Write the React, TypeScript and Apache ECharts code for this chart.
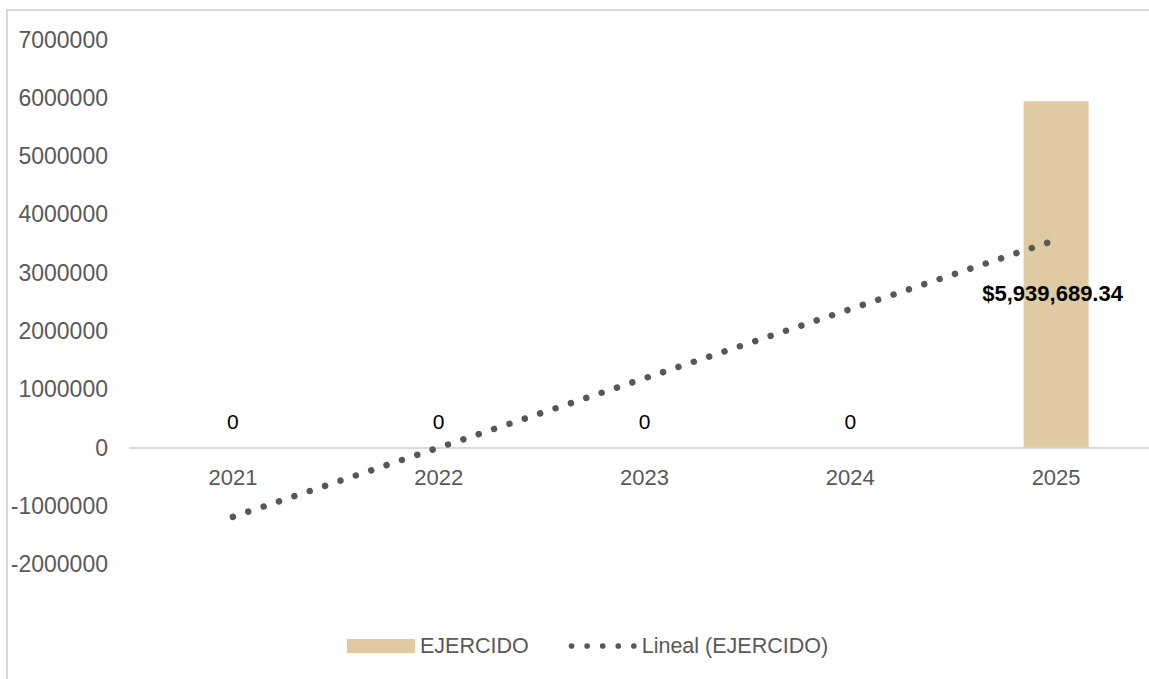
import React, { useEffect, useRef } from "react";
import * as echarts from "echarts";

const categories = ["2021", "2022", "2023", "2024", "2025"];
const ejercido = [0, 0, 0, 0, 5939689.34];
// Linear trendline ends (2021 and 2025)
const trendLine = [-1187938, null, null, null, 3563814];
const yTicks = { min: -2000000, max: 7000000, interval: 1000000 };

const FONT = "'Liberation Sans', Arial, sans-serif";
const GRAY = "#595959";
const DOT = "#55575B";

function fmtMoney(v: number) {
  return (
    "$" +
    v.toLocaleString("en-US", { minimumFractionDigits: 2, maximumFractionDigits: 2 })
  );
}

const dotsIcon =
  "path://" +
  [3, 19.5, 36, 52.5, 69]
    .map((cx) => `M${cx - 3},3a3,3 0 1,0 6,0a3,3 0 1,0 -6,0Z`)
    .join("");

export default function App() {
  const ref = useRef<HTMLDivElement>(null);
  useEffect(() => {
    if (!ref.current) return;
    const chart = echarts.init(ref.current, undefined, { renderer: "svg" });
    const top = 39.5;
    const bottom = 114.8;
    const plotH = 679 - top - bottom;
    const zeroOffset = (plotH * (0 - yTicks.min)) / (yTicks.max - yTicks.min);
    chart.setOption({
      animation: false,
      textStyle: { fontFamily: FONT },
      graphic: [
        {
          type: "rect",
          shape: { x: 7, y: 10, width: 1200, height: 720 },
          style: { fill: "none", stroke: "#d9d9d9", lineWidth: 2 },
          silent: true,
        },
      ],
      grid: { left: 130, right: 0, top, bottom, containLabel: false },
      legend: {
        left: 347,
        top: 635,
        padding: 0,
        itemWidth: 68,
        itemHeight: 14,
        itemGap: 40,
        textStyle: { color: GRAY, fontSize: 21.5, fontFamily: FONT },
        data: [
          { name: "EJERCIDO", icon: "rect" },
          {
            name: "Lineal (EJERCIDO)",
            icon: dotsIcon,
            itemStyle: { color: DOT, borderWidth: 0 },
            lineStyle: { width: 0 },
          },
        ],
      },
      xAxis: {
        type: "category",
        data: categories,
        offset: -zeroOffset,
        axisLine: { onZero: false, lineStyle: { color: "#d9d9d9", width: 2 } },
        axisTick: { show: false },
        axisLabel: { color: GRAY, fontSize: 22, margin: 19, fontFamily: FONT },
        splitLine: { show: false },
      },
      yAxis: {
        type: "value",
        min: yTicks.min,
        max: yTicks.max,
        interval: yTicks.interval,
        axisLine: { show: false },
        axisTick: { show: false },
        splitLine: { show: false },
        axisLabel: {
          color: GRAY,
          fontSize: 23,
          margin: 22,
          fontFamily: FONT,
          formatter: (v: number) => String(v),
        },
      },
      series: [
        {
          name: "EJERCIDO",
          type: "bar",
          barWidth: 65,
          itemStyle: { color: "#DFCAA2" },
          label: {
            show: true,
            position: "top",
            distance: 16,
            color: "#000",
            fontSize: 21,
            fontFamily: FONT,
          },
          data: ejercido.map((v) =>
            v > 0
              ? {
                  value: v,
                  label: {
                    position: [29, 192],
                    align: "center",
                    verticalAlign: "middle",
                    fontWeight: "bold",
                    fontSize: 22,
                    color: "#000",
                    formatter: () => fmtMoney(v),
                  },
                }
              : v
          ),
        },
        {
          name: "Lineal (EJERCIDO)",
          type: "line",
          data: trendLine,
          connectNulls: true,
          symbol: "none",
          showSymbol: false,
          z: 3,
          itemStyle: { color: DOT },
          lineStyle: { color: DOT, width: 6.5, type: [0.01, 16.2], cap: "round" },
        },
      ],
    });
    return () => chart.dispose();
  }, []);
  return (
    <div
      ref={ref}
      style={{ position: "fixed", left: 0, top: 0, width: 1159, height: 679, background: "#fff" }}
    />
  );
}
